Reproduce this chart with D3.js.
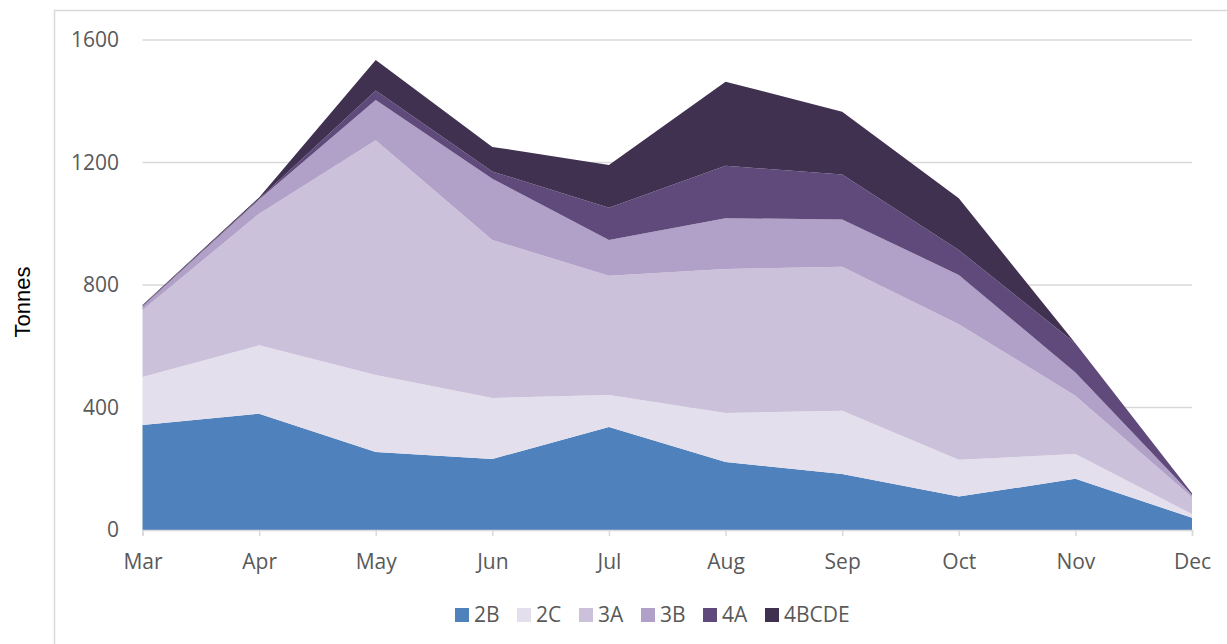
<!DOCTYPE html>
<html>
<head>
<meta charset="utf-8">
<script src="https://cdn.jsdelivr.net/npm/d3@7"></script>
<style>
  body { margin: 0; background: #fff; }
  text { font-family: "Open Sans", sans-serif; fill: #595959; }
</style>
</head>
<body>
<div id="chart"></div>
<script>
// months along the x axis
var months = ["Mar", "Apr", "May", "Jun", "Jul", "Aug", "Sep", "Oct", "Nov", "Dec"];

// tonnes per area
var s2B    = [343, 380, 255, 232, 336, 222, 183, 109, 167, 40];
var s2C    = [157, 223, 251, 199, 105, 160, 206, 120, 81, 12];
var s3A    = [218, 430, 767, 516, 389, 470, 471, 443, 190, 55];
var s3B    = [12, 46, 131, 200, 117, 166, 154, 161, 76, 7];
var s4A    = [3, 3, 31, 24, 105, 171, 147, 81, 96, 6];
var s4BCDE = [2, 4, 100, 80, 140, 275, 205, 169, 0, 0];

var yTicks = [0, 400, 800, 1200, 1600];

var keys = ["2B", "2C", "3A", "3B", "4A", "4BCDE"];
var series = [s2B, s2C, s3A, s3B, s4A, s4BCDE];
var colors = ["#4f81bd", "#e4dfec", "#ccc1da", "#b1a0c7", "#604a7b", "#403151"];

var width = 1227, height = 644;

var rows = months.map(function(m, i) {
  var r = {month: m};
  keys.forEach(function(k, j) { r[k] = series[j][i]; });
  return r;
});

var svg = d3.select("#chart")
  .append("svg")
  .attr("width", width)
  .attr("height", height);

// chart frame
svg.append("rect")
  .attr("x", 54.5).attr("y", 10.5)
  .attr("width", 1200).attr("height", 700)
  .attr("fill", "none")
  .attr("stroke", "#d9d9d9")
  .attr("stroke-width", 1.5);

var x = d3.scalePoint()
  .domain(months)
  .range([142.5, 1192]);

var y = d3.scaleLinear()
  .domain([0, 1600])
  .range([530, 40]);

// gridlines
svg.append("g")
  .selectAll("line")
  .data(yTicks.slice(1))
  .enter()
  .append("line")
    .attr("x1", 142.5)
    .attr("x2", 1192)
    .attr("y1", function(d) { return y(d); })
    .attr("y2", function(d) { return y(d); })
    .attr("stroke", "#d9d9d9")
    .attr("stroke-width", 1.5);

var stacked = d3.stack().keys(keys)(rows);

var area = d3.area()
  .x(function(d) { return x(d.data.month); })
  .y0(function(d) { return y(d[0]); })
  .y1(function(d) { return y(d[1]); });

svg.append("g")
  .selectAll("path")
  .data(stacked)
  .enter()
  .append("path")
    .attr("d", area)
    .attr("fill", function(d, i) { return colors[i]; });

// x axis
var xAxis = svg.append("g")
  .attr("transform", "translate(0,530)")
  .call(d3.axisBottom(x).tickSize(6).tickPadding(18));
xAxis.select(".domain").attr("stroke", "#d9d9d9").attr("stroke-width", 1.5);
xAxis.selectAll(".tick line").attr("stroke", "#d9d9d9").attr("stroke-width", 1.5);
xAxis.selectAll("text")
  .style("font-family", "'Open Sans', sans-serif")
  .style("font-size", "21px")
  .attr("fill", "#595959");

// y axis labels
var yAxis = svg.append("g")
  .attr("transform", "translate(142,0)")
  .call(d3.axisLeft(y).tickValues(yTicks).tickFormat(d3.format("d")).tickSize(0).tickPadding(23));
yAxis.select(".domain").remove();
yAxis.selectAll("text")
  .style("font-family", "'Open Sans', sans-serif")
  .style("font-size", "21px")
  .attr("fill", "#595959");

svg.append("text")
  .attr("text-anchor", "middle")
  .attr("transform", "translate(30,302) rotate(-90)")
  .style("font-family", "'Liberation Sans', Arial, sans-serif")
  .style("font-size", "22px")
  .style("fill", "#000")
  .text("Tonnes");

// legend
var legend = svg.append("g")
  .selectAll("g")
  .data(keys)
  .enter()
  .append("g")
    .attr("transform", function(d, i) { return "translate(" + (455 + i * 62) + ",608)"; });

legend.append("rect")
  .attr("width", 14)
  .attr("height", 14)
  .attr("fill", function(d, i) { return colors[i]; });

legend.append("text")
  .attr("x", 19)
  .attr("y", 7)
  .attr("dy", "0.35em")
  .style("font-size", "21px")
  .text(function(d) { return d; });
</script>
</body>
</html>
